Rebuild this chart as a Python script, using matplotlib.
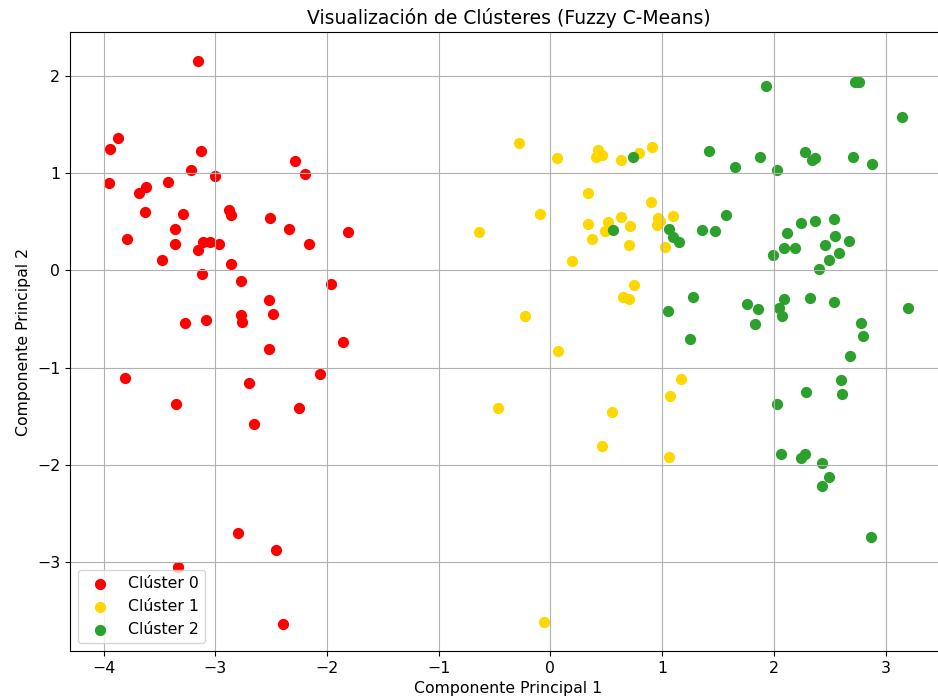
import matplotlib
matplotlib.use('Agg')
import matplotlib.pyplot as plt

# Cluster 0 (red)
c0_x = [-3.15, -3.87, -3.94, -3.13, -2.29, -2.20, -3.22, -3.00, -3.95, -3.42,
        -3.62, -3.68, -3.63, -3.29, -2.88, -2.86, -2.51, -2.34, -1.81, -3.36,
        -3.79, -3.36, -3.11, -3.05, -2.97, -3.15, -2.16, -3.48, -2.86, -3.12,
        -2.77, -1.96, -2.52, -2.48, -2.77, -2.76, -3.27, -3.08, -1.86, -2.52,
        -3.81, -2.70, -2.06, -3.35, -2.25, -2.65, -2.80, -2.46, -3.33, -2.39]
c0_y = [2.15, 1.36, 1.25, 1.23, 1.12, 0.99, 1.03, 0.97, 0.90, 0.91,
        0.86, 0.80, 0.60, 0.58, 0.62, 0.57, 0.54, 0.43, 0.39, 0.43,
        0.32, 0.27, 0.29, 0.29, 0.27, 0.21, 0.27, 0.11, 0.07, -0.04,
        -0.11, -0.14, -0.30, -0.45, -0.46, -0.53, -0.54, -0.51, -0.74, -0.81,
        -1.10, -1.16, -1.06, -1.37, -1.41, -1.58, -2.70, -2.87, -3.05, -3.63]

# Cluster 1 (yellow)
c1_x = [-0.28, 0.06, 0.43, 0.41, 0.46, 0.63, 0.79, 0.91, 0.34, -0.09,
        -0.64, 0.90, 0.34, 0.52, 0.63, 0.71, 0.49, 0.96, 0.95, 0.98,
        1.10, 0.37, 0.70, 1.03, 0.19, 0.75, 0.65, 0.70, -0.23, 0.07,
        1.17, 1.07, -0.47, 0.55, 0.46, 1.06, -0.06]
c1_y = [1.31, 1.16, 1.24, 1.17, 1.19, 1.13, 1.21, 1.27, 0.80, 0.58,
        0.40, 0.70, 0.48, 0.50, 0.55, 0.46, 0.41, 0.54, 0.47, 0.51,
        0.56, 0.32, 0.26, 0.24, 0.10, -0.15, -0.27, -0.29, -0.47, -0.83,
        -1.12, -1.29, -1.41, -1.45, -1.80, -1.92, -3.61]

# Cluster 2 (green)
c2_x = [0.74, 1.42, 0.56, 1.06, 1.10, 1.15, 1.36, 1.47, 1.28, 1.05,
        1.25, 1.93, 2.73, 2.76, 3.15, 1.88, 1.65, 2.03, 2.28, 2.37,
        2.34, 2.71, 2.88, 1.57, 2.24, 2.37, 2.54, 2.12, 2.55, 2.67,
        2.46, 2.09, 2.19, 1.99, 2.58, 2.49, 2.40, 1.76, 1.86, 1.83,
        2.09, 2.05, 2.07, 2.32, 2.54, 3.20, 2.78, 2.80, 2.68, 2.60,
        2.61, 2.29, 2.03, 2.06, 2.28, 2.24, 2.43, 2.49, 2.43, 2.87]
c2_y = [1.17, 1.23, 0.42, 0.43, 0.34, 0.29, 0.42, 0.41, -0.27, -0.42,
        -0.70, 1.90, 1.94, 1.94, 1.58, 1.17, 1.06, 1.03, 1.22, 1.16,
        1.13, 1.17, 1.09, 0.57, 0.49, 0.51, 0.53, 0.38, 0.35, 0.30,
        0.26, 0.23, 0.23, 0.16, 0.18, 0.11, 0.02, -0.34, -0.40, -0.55,
        -0.29, -0.39, -0.47, -0.28, -0.32, -0.39, -0.54, -0.67, -0.88, -1.13,
        -1.27, -1.25, -1.37, -1.89, -1.89, -1.93, -1.98, -2.12, -2.21, -2.74]

clusters = [(c0_x, c0_y, 'red', 'Clúster 0'),
            (c1_x, c1_y, 'gold', 'Clúster 1'),
            (c2_x, c2_y, 'tab:green', 'Clúster 2')]

fig = plt.figure(figsize=(9.38, 7.0), dpi=100)
# axes runs past the right edge, as in the cropped reference
ax = fig.add_axes([70 / 938, 49 / 700, 877 / 938, 619 / 700])

for xs, ys, color, label in clusters:
    ax.scatter(xs, ys, s=50, color=color, label=label)

ax.set_xlim(-4.30, 3.55)
ax.set_ylim(-3.91, 2.45)
ax.set_title('Visualización de Clústeres (Fuzzy C-Means)', fontsize=13.5)
ax.set_xlabel('Componente Principal 1', fontsize=11.3)
ax.set_ylabel('Componente Principal 2', fontsize=11.3)
ax.tick_params(labelsize=11.3)
ax.grid(True)
ax.legend(loc='lower left', fontsize=11.3)

fig.savefig('out.png', dpi=100)
